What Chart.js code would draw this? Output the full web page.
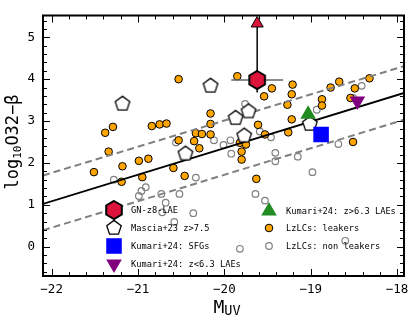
<!DOCTYPE html>
<html>
<head>
<meta charset="utf-8">
<script src="https://cdn.jsdelivr.net/npm/chart.js@4.4.1/dist/chart.umd.min.js"></script>
<style>
  html, body { margin: 0; padding: 0; background: #fff; }
</style>
</head>
<body>
<canvas id="chart" width="415" height="323"></canvas>
<script>
// valeurs
const xTicks = [-22, -21, -20, -19, -18];
const yTicks = [0, 1, 2, 3, 4, 5];

const leakersX = [-20.53, -21.38, -21.29, -20.84, -20.75, -20.67, -21.34, -20.53, -20.33, -20.26,
  -20.35, -20.29, -20.99, -20.88, -21.18, -21.51, -20.59, -20.45, -21.19, -20.95,
  -20.46, -19.85, -19.45, -19.54, -20.16, -20.16, -20.16, -19.61, -19.53, -19.82,
  -19.75, -19.80, -19.21, -19.22, -19.27, -19.22, -19.26, -18.77, -18.67, -18.32,
  -18.49, -18.87, -18.87, -18.54, -18.51, -19.80, -19.63];
const leakersY = [4.00, 2.72, 2.86, 2.88, 2.92, 2.94, 2.27, 2.54, 2.71, 2.69,
  2.52, 2.35, 2.05, 2.10, 1.92, 1.78, 1.88, 2.22, 1.55, 1.66,
  1.69, 4.07, 3.78, 3.59, 3.18, 2.93, 2.68, 2.91, 2.68, 2.48,
  2.44, 2.27, 3.87, 3.64, 3.39, 3.04, 2.73, 3.80, 3.94, 4.02,
  3.78, 3.52, 3.37, 3.55, 2.50, 2.08, 1.62];

const nonLeakersX = [-20.56, -21.28, -20.91, -20.96, -20.99, -20.73, -20.68, -20.52, -20.33, -20.36,
  -20.58, -20.72, -19.64, -19.53, -19.41, -19.41, -19.76, -19.59, -19.46, -19.93,
  -20.01, -20.12, -19.92, -19.15, -18.98, -18.93, -18.68, -18.41, -18.51, -19.82, -18.60];
const nonLeakersY = [2.49, 1.60, 1.42, 1.33, 1.21, 1.26, 1.05, 1.26, 1.65, 0.80,
  0.59, 0.82, 1.26, 1.10, 2.24, 2.04, 3.41, 2.75, 2.61, 2.54,
  2.43, 2.54, 2.22, 2.15, 1.78, 3.27, 2.45, 3.84, 3.55, -0.05, 0.14];

const masciaX = [-21.18, -20.16, -19.87, -19.72, -19.77, -20.45, -19.01];
const masciaY = [3.41, 3.84, 3.07, 3.23, 2.65, 2.22, 2.93];

const gnX = [-19.62];
const gnY = [3.98];
const gnErrX = [-19.92, -19.32];
const gnErrY = [3.68, 5.33];

const kumariLaeHiX = [-19.03];
const kumariLaeHiY = [3.16];
const kumariSfgX = [-18.88];
const kumariSfgY = [2.68];
const kumariLaeLoX = [-18.46];
const kumariLaeLoY = [3.48];

const fitX = [-22.1, -17.92];
const fitY = [1.02, 3.67];
const fitUpperY = [1.70, 4.31];
const fitLowerY = [0.39, 3.03];

const pts = (xs, ys) => xs.map((x, i) => ({ x, y: ys[i] }));

function polyImg(n, R, fill, stroke, lw) {
  const s = Math.ceil(2 * R + 2 * lw + 2);
  const c = document.createElement("canvas");
  c.width = s;
  c.height = s;
  const g = c.getContext("2d");
  g.beginPath();
  for (let i = 0; i < n; i++) {
    const a = -Math.PI / 2 + i * 2 * Math.PI / n;
    const px = s / 2 + R * Math.cos(a);
    const py = s / 2 + R * Math.sin(a);
    if (i === 0) g.moveTo(px, py); else g.lineTo(px, py);
  }
  g.closePath();
  g.fillStyle = fill;
  g.fill();
  g.lineWidth = lw;
  g.strokeStyle = stroke;
  g.stroke();
  return c;
}

const hexImg = polyImg(6, 9, "#DC143C", "#000", 2);
const pentImg = polyImg(5, 7.6, "#fff", "#000", 1.3);

const MONO = "'DejaVu Sans Mono', monospace";

const legendItems = [
  { x: 114, y: 210, label: "GN-z8-LAE", img: hexImg },
  { x: 114, y: 228, label: "Mascia+23 z>7.5", img: pentImg },
  { x: 114, y: 246, label: "Kumari+24: SFGs", style: "rect", r: 11, fill: "#0000FF", stroke: "#0000FF", lw: 0 },
  { x: 114, y: 264, label: "Kumari+24: z<6.3 LAEs", style: "triangle", r: 9, rot: 180, fill: "#800080", stroke: "#800080", lw: 0 },
  { x: 269, y: 211, label: "Kumari+24: z>6.3 LAEs", style: "triangle", r: 9, fill: "#228B22", stroke: "#228B22", lw: 0 },
  { x: 269, y: 228, label: "LzLCs: leakers", style: "circle", r: 3.8, fill: "#FFA500", stroke: "#000", lw: 1 },
  { x: 269, y: 246, label: "LzLCs: non leakers", style: "circle", r: 3.3, fill: "rgba(0,0,0,0)", stroke: "#808080", lw: 1.2 }
];

const framePlugin = {
  id: "frame",
  afterDraw(chart) {
    const { ctx, chartArea: a, scales } = chart;
    const sx = scales.x, sy = scales.y;
    ctx.save();
    ctx.strokeStyle = "#000";
    ctx.lineWidth = 1;
    // petites graduations vers l'interieur, sur les quatre cotes
    for (let v = -22; v <= -17.95; v += 0.2) {
      const val = Math.round(v * 10) / 10;
      if (val < -22.1 || val > -17.92) continue;
      const major = Math.abs(val - Math.round(val)) < 1e-6;
      const len = major ? 7 : 4;
      const px = Math.round(sx.getPixelForValue(val)) + 0.5;
      ctx.beginPath();
      ctx.moveTo(px, a.bottom); ctx.lineTo(px, a.bottom - len);
      ctx.moveTo(px, a.top); ctx.lineTo(px, a.top + len);
      ctx.stroke();
    }
    for (let v = -0.6; v <= 5.5; v += 0.2) {
      const val = Math.round(v * 10) / 10;
      const major = Math.abs(val - Math.round(val)) < 1e-6;
      const len = major ? 7 : 4;
      const py = Math.round(sy.getPixelForValue(val)) + 0.5;
      ctx.beginPath();
      ctx.moveTo(a.left, py); ctx.lineTo(a.left + len, py);
      ctx.moveTo(a.right, py); ctx.lineTo(a.right - len, py);
      ctx.stroke();
    }
    ctx.lineWidth = 2;
    ctx.strokeRect(a.left, a.top, a.right - a.left, a.bottom - a.top);

    // legende
    ctx.font = "8.7px " + MONO;
    ctx.textBaseline = "middle";
    ctx.textAlign = "left";
    legendItems.forEach(it => {
      if (it.img) {
        ctx.drawImage(it.img, it.x - it.img.width / 2, it.y - it.img.height / 2);
      } else {
        ctx.fillStyle = it.fill;
        ctx.strokeStyle = it.stroke;
        ctx.lineWidth = it.lw;
        Chart.helpers.drawPoint(ctx, { pointStyle: it.style, radius: it.r, rotation: it.rot || 0, borderWidth: it.lw }, it.x, it.y);
      }
      ctx.fillStyle = "#000";
      ctx.fillText(it.label, it.x + 17, it.y + 0.5);
    });

    // titre de l'axe x
    ctx.fillStyle = "#000";
    ctx.textBaseline = "alphabetic";
    ctx.font = "18px " + MONO;
    const wM = ctx.measureText("M").width;
    ctx.font = "13.5px " + MONO;
    const wUV = ctx.measureText("UV").width;
    let x0 = 227 - (wM + wUV) / 2;
    ctx.font = "18px " + MONO;
    ctx.fillText("M", x0, 313);
    ctx.font = "13.5px " + MONO;
    ctx.fillText("UV", x0 + wM, 315);

    // titre de l'axe y
    ctx.translate(18, 142);
    ctx.rotate(-Math.PI / 2);
    ctx.font = "17px " + MONO;
    const w1 = ctx.measureText("log").width;
    const w3 = ctx.measureText("O32\u2212\u03b2").width;
    ctx.font = "11px " + MONO;
    const w2 = ctx.measureText("10").width;
    let t = -(w1 + w2 + w3) / 2;
    ctx.font = "17px " + MONO;
    ctx.fillText("log", t, 0);
    ctx.font = "11px " + MONO;
    ctx.fillText("10", t + w1, 3);
    ctx.font = "17px " + MONO;
    ctx.fillText("O32\u2212\u03b2", t + w1 + w2, 0);
    ctx.restore();
  }
};

const lineSet = (ys, color, width, dash) => ({
  type: "scatter",
  data: pts(fitX, ys),
  showLine: true,
  borderColor: color,
  borderWidth: width,
  borderDash: dash,
  pointRadius: 0,
  order: 4
});

const tickFont = { family: MONO, size: 12.5 };
const minus = v => String(v).replace("-", "\u2212");

new Chart(document.getElementById("chart"), {
  type: "scatter",
  data: {
    datasets: [
      { data: pts(gnX, gnY), pointStyle: hexImg, pointRadius: 9, order: 1 },
      { data: pts([gnX[0]], [gnErrY[1]]), pointStyle: "triangle", pointRadius: 7, backgroundColor: "#DC143C", borderColor: "#000", borderWidth: 1, order: 1 },
      { data: pts(gnErrX, [gnY[0], gnY[0]]), showLine: true, borderColor: "#666", borderWidth: 1.5, pointRadius: 0, order: 2 },
      { data: pts([gnX[0], gnX[0]], gnErrY), showLine: true, borderColor: "#000", borderWidth: 1.5, pointRadius: 0, order: 2 },
      { data: pts(kumariLaeHiX, kumariLaeHiY), pointStyle: "triangle", pointRadius: 9, backgroundColor: "#228B22", borderWidth: 0, order: 2 },
      { data: pts(kumariSfgX, kumariSfgY), pointStyle: "rect", pointRadius: 11, backgroundColor: "#0000FF", borderWidth: 0, order: 2 },
      { data: pts(kumariLaeLoX, kumariLaeLoY), pointStyle: "triangle", pointRotation: 180, pointRadius: 9, backgroundColor: "#800080", borderWidth: 0, order: 2 },
      { data: pts(masciaX, masciaY), pointStyle: pentImg, pointRadius: 8, order: 3 },
      lineSet(fitY, "#000", 1.8, []),
      lineSet(fitUpperY, "#808080", 2, [7, 4]),
      lineSet(fitLowerY, "#808080", 2, [7, 4]),
      { data: pts(leakersX, leakersY), pointRadius: 3.8, backgroundColor: "#FFA500", borderColor: "#000", borderWidth: 1, order: 5 },
      { data: pts(nonLeakersX, nonLeakersY), pointRadius: 3.3, backgroundColor: "rgba(0,0,0,0)", borderColor: "#808080", borderWidth: 1.2, order: 6 }
    ]
  },
  options: {
    responsive: false,
    animation: false,
    devicePixelRatio: 1,
    layout: { padding: { top: 5, right: 8, left: 0, bottom: 0 } },
    plugins: {
      legend: { display: false },
      tooltip: { enabled: false }
    },
    scales: {
      x: {
        type: "linear",
        min: -22.1,
        max: -17.92,
        afterBuildTicks: s => { s.ticks = xTicks.map(v => ({ value: v })); },
        afterFit: s => { s.height = 47; },
        ticks: { callback: minus, font: tickFont, color: "#000", padding: 6, maxRotation: 0, autoSkip: false },
        grid: { display: false, drawTicks: false },
        border: { display: false }
      },
      y: {
        type: "linear",
        min: -0.7,
        max: 5.52,
        afterBuildTicks: s => { s.ticks = yTicks.map(v => ({ value: v })); },
        afterFit: s => { s.width = 43; },
        ticks: { callback: minus, font: tickFont, color: "#000", padding: 8, autoSkip: false },
        grid: { display: false, drawTicks: false },
        border: { display: false }
      }
    }
  },
  plugins: [framePlugin]
});
</script>
</body>
</html>
